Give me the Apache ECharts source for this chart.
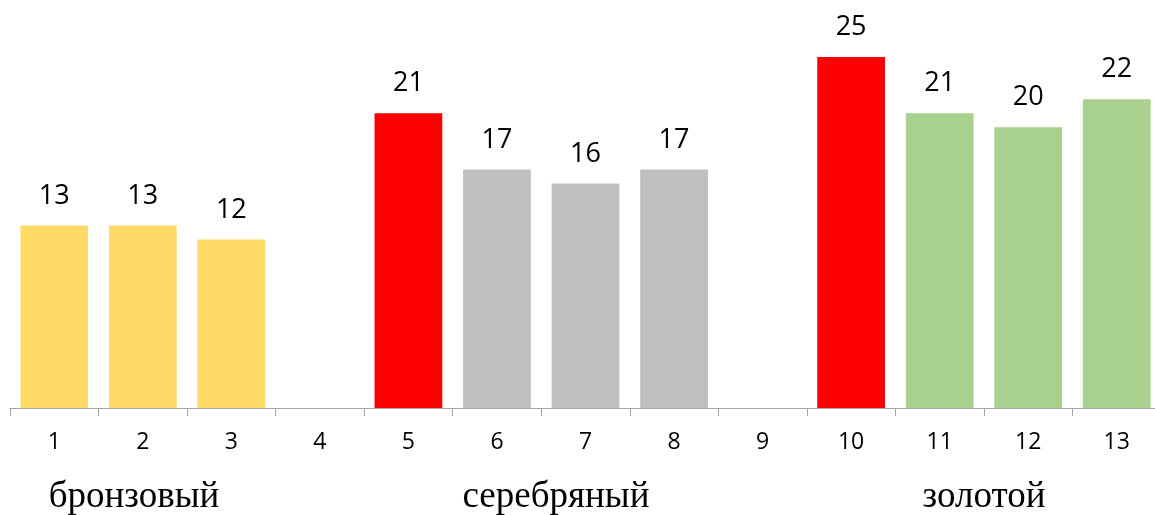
<!DOCTYPE html>
<html><head><meta charset="utf-8">
<script src="https://cdn.jsdelivr.net/npm/echarts@6/dist/echarts.min.js"></script>
<style>html,body{margin:0;padding:0;background:#fff}#c{width:1155px;height:515px}</style>
</head><body><div id="c"></div>
<script>
const categories = ['1','2','3','4','5','6','7','8','9','10','11','12','13'];
const values = [13,13,12,null,21,17,16,17,null,25,21,20,22];
const barColors = ['#FFD966','#FFD966','#FFD966','#FFD966','#FF0000','#BFBFBF','#BFBFBF','#BFBFBF','#BFBFBF','#FF0000','#A9D18E','#A9D18E','#A9D18E'];
const groupNames = ['бронзовый','серебряный','золотой'];
const groupCenters = [134, 556, 984];

const chart = echarts.init(document.getElementById('c'));
chart.setOption({
  animation:false,
  grid:{left:10, width:1151, top:15, bottom:107, containLabel:false, outerBoundsMode:'none'},
  xAxis:{type:'category', data:categories, boundaryGap:true,
    axisLine:{lineStyle:{color:'#A6A6A6', width:1}},
    axisTick:{show:true, interval:0, length:8, lineStyle:{color:'#A6A6A6'}},
    axisLabel:{interval:0, margin:23, fontFamily:'Open Sans', fontSize:23, color:'#000'}},
  yAxis:{type:'value', min:0, max:28, show:false, splitLine:{show:false}},
  series:[{type:'bar', barCategoryGap:'23.5%',
    data:values.map((v,i)=>({value:v, itemStyle:{color:barColors[i]}})),
    label:{show:true, position:'top', distance:16, fontFamily:'Open Sans', fontSize:27, color:'#000'}}],
  graphic: groupNames.map((t,i)=>({type:'text', x:groupCenters[i], y:497,
    style:{text:t, fontFamily:'Liberation Serif', fontSize:37, fill:'#000', align:'center', verticalAlign:'middle'}}))
});
</script></body></html>
